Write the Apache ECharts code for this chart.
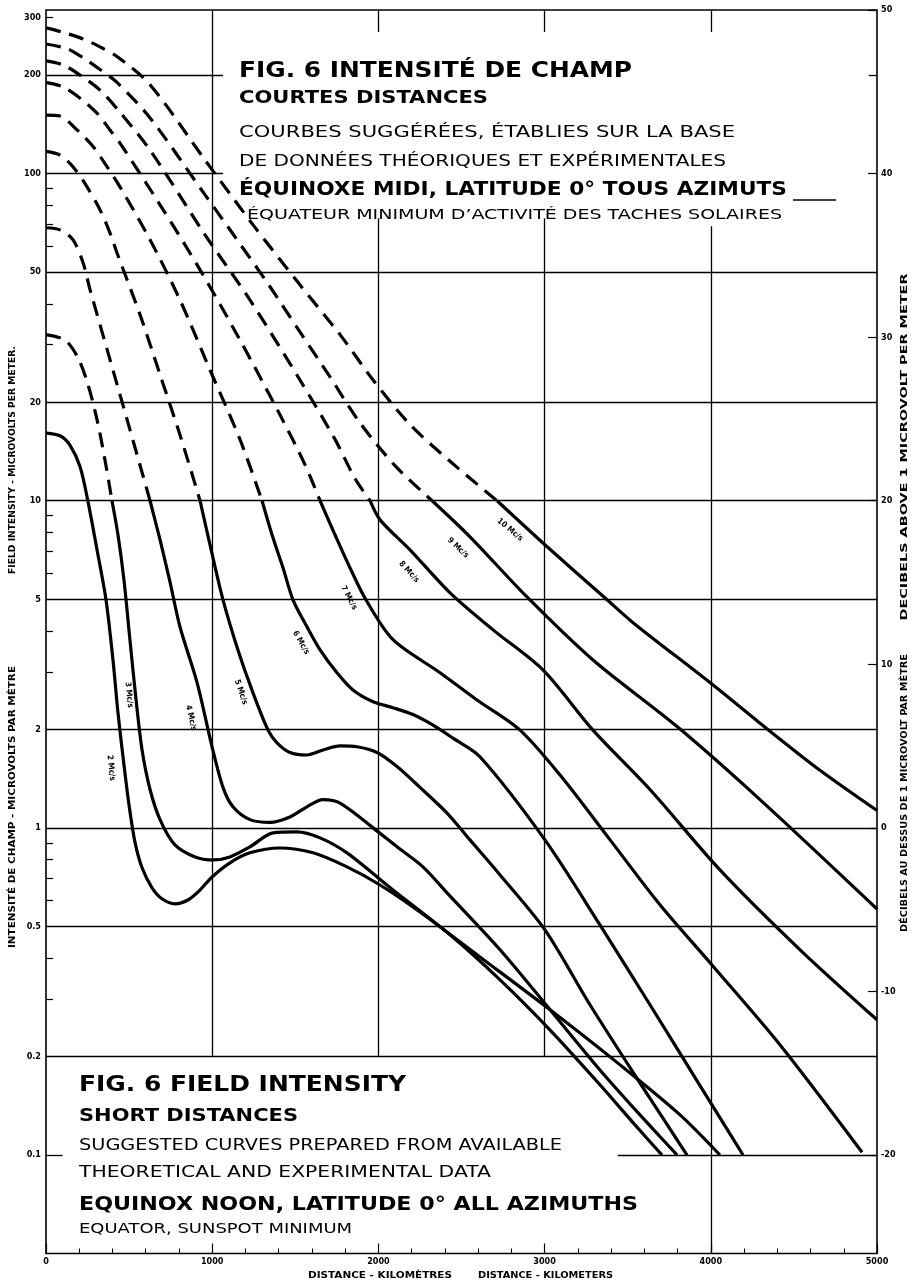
<!DOCTYPE html>
<html><head><meta charset="utf-8">
<script src="https://cdn.jsdelivr.net/npm/echarts@6/dist/echarts.min.js"></script>
<style>html,body{margin:0;padding:0;background:#fff}#c{width:920px;height:1285px}</style>
</head><body><div id="c"></div>
<script>
// ---------------- DATA ----------------
const xTickLabels = [0, 1000, 2000, 3000, 4000, 5000];
const leftTickLabels = [300, 200, 100, 50, 20, 10, 5, 2, 1, 0.5, 0.2, 0.1];
const leftMinorTicks = [300, 90, 80, 70, 60, 40, 30, 9, 8, 7, 6, 4, 3, 0.9, 0.8, 0.7, 0.6, 0.4, 0.3];
const rightDbLabels = [50, 40, 30, 20, 10, 0, -10, -20];
const fullGridValues = [50, 20, 10, 5, 2, 1, 0.5, 0.2];

const mc10Dashed = [[0,279],[96,271],[223,258],[325,244],[427,228],[626,187],[957,110],[1246,69.7],[1528,45.7],[1769,32.2],[1968,23.4],[2190,17.1],[2431,13.2],[2714,10]];
const mc10Solid  = [[2714,10],[2990,7.43],[3376,4.98],[3532,4.24],[3995,2.78],[4296,2.09],[4657,1.50],[5000,1.13]];
const mc9Dashed  = [[0,249],[126,241],[223,226],[325,208],[427,190],[626,148],[957,86.1],[1137,64.1],[1348,45.1],[1528,32.8],[1709,23.9],[1889,17.3],[2100,12.8],[2323,10]];
const mc9Solid   = [[2323,10],[2551,7.76],[2894,5.08],[3291,3.26],[3797,2.04],[4296,1.22],[5000,0.565]];
const mc8Dashed  = [[0,221],[102,215],[205,200],[325,180],[445,154],[626,118],[957,65.0],[1227,41.1],[1528,23.4],[1739,15.4],[1859,11.7],[1950,10]];
const mc8Solid   = [[1950,10],[2010,8.74],[2190,7.08],[2431,5.23],[2690,4.03],[2990,3.04],[3291,1.99],[3634,1.31],[4055,0.744],[4537,0.424],[5000,0.259]];
const mc7Dashed  = [[0,190],[102,184],[205,170],[307,153],[385,136],[445,124],[686,80.3],[927,50.8],[1167,31.0],[1408,18.3],[1558,12.9],[1649,10]];
const mc7Solid   = [[1649,10],[1739,7.87],[1829,6.24],[1925,4.98],[2088,3.76],[2371,2.98],[2593,2.46],[2852,1.99],[3093,1.45],[3394,0.919],[3694,0.582],[4007,0.381],[4417,0.217],[4910,0.102]];
const mc6Dashed  = [[0,151],[84,150],[187,136],[283,121],[367,105],[445,91.1],[626,62.8],[806,41.1],[987,25.1],[1167,15.4],[1300,10]];
const mc6Solid   = [[1300,10],[1360,7.87],[1426,6.24],[1486,4.98],[1570,4.12],[1649,3.50],[1751,2.98],[1847,2.64],[1968,2.43],[2088,2.33],[2208,2.22],[2329,2.06],[2449,1.88],[2611,1.65],[3002,0.919],[3333,0.505],[3634,0.288],[3935,0.163],[4194,0.1]];
const mc5Dashed  = [[0,117],[84,114],[162,105],[247,91.1],[325,77.5],[385,65.9],[427,57.3],[566,37.0],[686,24.3],[806,15.9],[927,10]];
const mc5Solid   = [[927,10],[987,7.33],[1065,4.98],[1155,3.50],[1245,2.59],[1336,1.99],[1390,1.82],[1468,1.70],[1570,1.67],[1667,1.73],[1769,1.78],[1871,1.77],[1992,1.70],[2112,1.54],[2250,1.33],[2413,1.11],[2551,0.919],[2732,0.718],[3002,0.488],[3273,0.288],[3574,0.166],[3857,0.1]];
const mc4Dashed  = [[0,68.3],[84,67.3],[162,62.8],[223,53.4],[265,44.2],[385,27.0],[505,16.5],[626,10]];
const mc4Solid   = [[626,10],[686,7.60],[746,5.65],[806,4.12],[909,2.78],[999,1.77],[1065,1.33],[1125,1.16],[1227,1.06],[1348,1.04],[1468,1.08],[1570,1.16],[1667,1.22],[1769,1.19],[1968,1.0],[2112,0.875],[2268,0.760],[2413,0.633],[2732,0.424],[3033,0.278],[3333,0.182],[3574,0.1326],[3797,0.1]];
const mc3Dashed  = [[0,32.2],[114,31.0],[193,27.3],[253,22.6],[307,17.7],[355,13.3],[397,10]];
const mc3Solid   = [[397,10],[433,7.87],[469,5.73],[505,3.76],[542,2.46],[578,1.73],[626,1.31],[686,1.06],[776,0.887],[897,0.815],[1005,0.798],[1107,0.815],[1227,0.875],[1366,0.965],[1510,0.972],[1649,0.932],[1811,0.839],[1992,0.708],[2088,0.646],[2431,0.471],[2732,0.343],[3033,0.241],[3333,0.164],[3544,0.1236],[3706,0.1]];
const mc2Dashed  = [];
const mc2Solid   = [[0,16.1],[84,15.8],[144,14.8],[205,12.7],[253,9.92],[307,7.08],[361,4.98],[403,3.26],[433,2.25],[469,1.56],[499,1.18],[535,0.906],[578,0.755],[638,0.656],[698,0.607],[776,0.586],[854,0.602],[927,0.646],[999,0.708],[1107,0.782],[1227,0.839],[1408,0.868],[1607,0.839],[1811,0.760],[2010,0.669],[2250,0.553],[2611,0.403],[3033,0.278],[3454,0.1886],[3815,0.1326],[4055,0.1]];

const curveNames = ['2 Mc/s','3 Mc/s','4 Mc/s','5 Mc/s','6 Mc/s','7 Mc/s','8 Mc/s','9 Mc/s','10 Mc/s'];
const curveDashed = [mc2Dashed, mc3Dashed, mc4Dashed, mc5Dashed, mc6Dashed, mc7Dashed, mc8Dashed, mc9Dashed, mc10Dashed];
const curveSolid  = [mc2Solid, mc3Solid, mc4Solid, mc5Solid, mc6Solid, mc7Solid, mc8Solid, mc9Solid, mc10Solid];

// ---------------- LAYOUT (not data) ----------------
const yMin = 0.05, yMax = 316.3;
const labelAnchors = [
  {km:391, v:1.525, rot:84}, {km:499, v:2.55, rot:84}, {km:872, v:2.17, rot:77},
  {km:1173, v:2.60, rot:71}, {km:1534, v:3.68, rot:60}, {km:1823, v:5.05, rot:62},
  {km:2184, v:6.06, rot:47}, {km:2479, v:7.18, rot:43}, {km:2792, v:8.15, rot:40}
];

const chart = echarts.init(document.getElementById('c'), null, {renderer:'canvas'});
const FAM = 'DejaVu Sans';
const CFAM = 'DejaVu Sans Condensed';

const gridSegs = [];
fullGridValues.forEach(v => gridSegs.push([[0, v], [5000, v]]));
[200, 100].forEach(v => gridSegs.push([[0, v], [1065, v]]));
gridSegs.push([[4950, 200], [5000, 200]]);
gridSegs.push([[3440, 0.1], [5000, 0.1]]);
gridSegs.push([[0, 0.1], [100, 0.1]]);
gridSegs.push([[1000, 0.2], [1000, yMax]]);
[2000, 3000].forEach(x => { gridSegs.push([[x, 0.2], [x, 73]]); gridSegs.push([[x, 271], [x, yMax]]); });
gridSegs.push([[4000, yMin], [4000, 69]]); gridSegs.push([[4000, 271], [4000, yMax]]);

const series = [{
  type:'line', data:[], z:1, silent:true,
  markLine:{ symbol:['none','none'], silent:true, animation:false, label:{show:false},
    lineStyle:{color:'#000', width:1.3, type:'solid'},
    data: gridSegs.map(s => [{coord:s[0]}, {coord:s[1]}]) }
}];
curveNames.forEach((n, i) => {
  if (curveDashed[i].length) series.push({ name:n+' dashed', type:'line', data:curveDashed[i], smooth:0.3, showSymbol:false, z:3,
    lineStyle:{color:'#000', width:3.2, type:[15, 9]} });
  series.push({ name:n, type:'line', data:curveSolid[i], smooth:0.3, showSymbol:false, z:3,
    lineStyle:{color:'#000', width:3.2, type:'solid'} });
});

const tickFont = {fontSize:9, fontWeight:'bold', color:'#000', fontFamily:CFAM};
chart.setOption({
  animation:false,
  grid:{left:46, right:43, top:10, bottom:31.5, show:true, borderColor:'#000', borderWidth:1.6, backgroundColor:'transparent'},
  xAxis:{type:'value', min:0, max:5000, interval:1000, axisLine:{show:false}, splitLine:{show:false},
    axisTick:{show:true, inside:true, length:10, lineStyle:{color:'#000', width:1.2}},
    minorTick:{show:true, splitNumber:5, length:5, lineStyle:{color:'#000', width:1}},
    axisLabel:Object.assign({margin:4, customValues:xTickLabels, formatter:v => String(v)}, tickFont)},
  yAxis:[
    {type:'log', logBase:10, min:yMin, max:yMax, position:'left', axisLine:{show:false}, splitLine:{show:false},
     axisTick:{show:true, inside:true, length:7, customValues:leftMinorTicks, lineStyle:{color:'#000', width:1.2}},
     axisLabel:Object.assign({margin:5, customValues:leftTickLabels, formatter:v => String(+v.toPrecision(3))}, tickFont)},
    {type:'log', logBase:10, min:yMin, max:yMax, position:'right', axisLine:{show:false}, splitLine:{show:false},
     axisTick:{show:true, inside:true, length:9, customValues:rightDbLabels.map(d => Math.pow(10, d/20)), lineStyle:{color:'#000', width:1.2}},
     axisLabel:Object.assign({margin:4, customValues:rightDbLabels.map(d => Math.pow(10, d/20)), formatter:v => String(Math.round(20*Math.log10(v)))}, tickFont)}
  ],
  series: series
});

// ---------------- TEXT ----------------
const mctx = document.createElement('canvas').getContext('2d');
function fitted(text, x, y, w, size, weight, family, align, rot) {
  mctx.font = weight + ' ' + size + 'px ' + family;
  const m = mctx.measureText(text).width;
  return {type:'text', x:x, y:y, rotation:(rot||0)*Math.PI/180, scaleX:w/m, z:20, silent:true,
    style:{text:text, fontSize:size, fontWeight:weight, fontFamily:family, fill:'#000',
      align:align||'left', verticalAlign:'middle', textAlign:align||'left', textVerticalAlign:'middle'}};
}
const g = [];
// French title block
g.push(fitted('FIG. 6 INTENSITÉ DE CHAMP', 239, 71, 393, 22, 'bold', FAM));
g.push(fitted('COURTES DISTANCES', 239, 98, 249, 18, 'bold', FAM));
g.push(fitted('COURBES SUGGÉRÉES, ÉTABLIES SUR LA BASE', 239, 133, 496, 16, 'normal', FAM));
g.push(fitted('DE DONNÉES THÉORIQUES ET EXPÉRIMENTALES', 239, 162, 487, 16, 'normal', FAM));
g.push(fitted('ÉQUINOXE MIDI, LATITUDE 0° TOUS AZIMUTS', 239, 190, 548, 20, 'bold', FAM));
g.push(fitted('ÉQUATEUR MINIMUM D’ACTIVITÉ DES TACHES SOLAIRES', 247, 215, 535, 14, 'normal', FAM));
g.push({type:'line', shape:{x1:793, y1:200, x2:836, y2:200}, style:{stroke:'#000', lineWidth:1.3}, silent:true, z:20});
// English title block
g.push(fitted('FIG. 6 FIELD INTENSITY', 79, 1085, 327, 22, 'bold', FAM));
g.push(fitted('SHORT DISTANCES', 79, 1116, 219, 18, 'bold', FAM));
g.push(fitted('SUGGESTED CURVES PREPARED FROM AVAILABLE', 79, 1146, 483, 16, 'normal', FAM));
g.push(fitted('THEORETICAL AND EXPERIMENTAL DATA', 79, 1173, 412, 16, 'normal', FAM));
g.push(fitted('EQUINOX NOON, LATITUDE 0° ALL AZIMUTHS', 79, 1205, 559, 20, 'bold', FAM));
g.push(fitted('EQUATOR, SUNSPOT MINIMUM', 79, 1229, 273, 14, 'normal', FAM));
// axis names
g.push(fitted('DISTANCE - KILOMÈTRES', 308, 1276, 144, 9, 'bold', CFAM));
g.push(fitted('DISTANCE - KILOMETERS', 478, 1276, 135, 9, 'bold', CFAM));
g.push(fitted('FIELD INTENSITY - MICROVOLTS PER METER.', 13, 460, 228, 8, 'bold', CFAM, 'center', 90));
g.push(fitted('INTENSITÉ DE CHAMP - MICROVOLTS PAR MÈTRE', 13, 807, 282, 8, 'bold', CFAM, 'center', 90));
g.push(fitted('DECIBELS ABOVE 1 MICROVOLT PER METER', 905, 447, 347, 8, 'bold', CFAM, 'center', 90));
g.push(fitted('DÉCIBELS AU DESSUS DE 1 MICROVOLT PAR MÈTRE', 905, 793, 278, 8, 'bold', CFAM, 'center', 90));
// curve labels
labelAnchors.forEach((a, i) => {
  const p = chart.convertToPixel({gridIndex:0}, [a.km, a.v]);
  g.push({type:'text', x:p[0], y:p[1], rotation:-a.rot*Math.PI/180, z:20, silent:true,
    style:{text:curveNames[i], fontSize:8, fontWeight:'bold', fontFamily:CFAM, fill:'#000',
      align:'center', verticalAlign:'middle', textAlign:'center', textVerticalAlign:'middle'}});
});
chart.setOption({graphic:{elements:g}});
</script>
</body></html>
